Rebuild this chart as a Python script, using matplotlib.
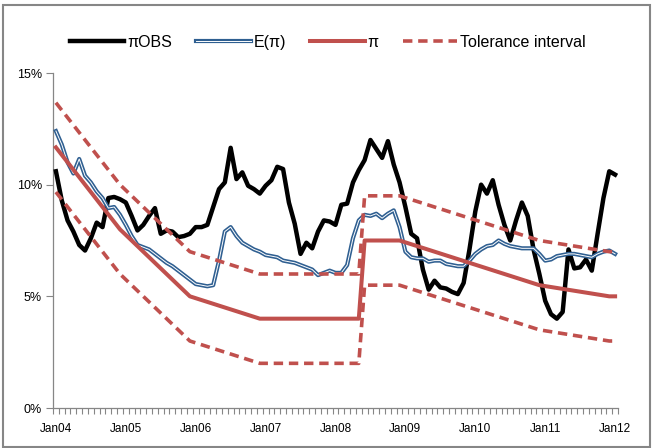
import matplotlib
matplotlib.use("Agg")
import matplotlib.pyplot as plt
from matplotlib.lines import Line2D
from matplotlib.patches import Rectangle
from matplotlib.ticker import FuncFormatter, FixedLocator

plt.rcParams['font.family'] = ['Liberation Sans', 'DejaVu Sans']

# monthly observations, Jan04 .. Jan12 (97 months), in %
pi_obs = [10.6, 9.3, 8.4, 7.9, 7.3, 7.05, 7.6, 8.3, 8.1, 9.4, 9.45, 9.35,
          9.2, 8.6, 7.95, 8.2, 8.6, 8.95, 7.8, 7.95, 7.9, 7.65, 7.7, 7.8,
          8.1, 8.1, 8.2, 9.0, 9.8, 10.1, 11.65, 10.25, 10.55, 9.95, 9.8, 9.6,
          9.95, 10.2, 10.8, 10.7, 9.2, 8.25, 6.9, 7.4, 7.15, 7.9, 8.4, 8.35,
          8.2, 9.1, 9.15, 10.1, 10.65, 11.1, 12.0, 11.6, 11.2, 11.95, 10.9, 10.1,
          9.0, 7.8, 7.6, 6.2, 5.3, 5.7, 5.4, 5.35, 5.2, 5.1, 5.6, 7.1,
          8.8, 10.0, 9.6, 10.2, 9.1, 8.2, 7.5, 8.4, 9.2, 8.6, 7.1, 6.0,
          4.8, 4.2, 4.0, 4.3, 7.1, 6.25, 6.3, 6.65, 6.15, 7.8, 9.4, 10.6,
          10.45]

pi_exp = [12.4, 11.8, 11.0, 10.5, 11.15, 10.4, 10.1, 9.7, 9.4, 8.95, 9.0, 8.65,
          8.2, 7.7, 7.3, 7.2, 7.1, 6.9, 6.7, 6.5, 6.35, 6.15, 5.95, 5.75,
          5.55, 5.5, 5.45, 5.5, 6.6, 7.9, 8.1, 7.7, 7.4, 7.25, 7.1, 7.0,
          6.85, 6.8, 6.75, 6.6, 6.55, 6.5, 6.4, 6.3, 6.2, 5.95, 6.05, 6.15,
          6.05, 6.05, 6.4, 7.6, 8.4, 8.65, 8.6, 8.7, 8.5, 8.7, 8.85, 8.1,
          7.0, 6.75, 6.7, 6.7, 6.55, 6.6, 6.6, 6.45, 6.4, 6.35, 6.35, 6.6,
          6.9, 7.1, 7.25, 7.3, 7.5, 7.35, 7.25, 7.2, 7.15, 7.15, 7.15, 6.9,
          6.6, 6.65, 6.8, 6.85, 6.9, 6.9, 6.85, 6.8, 6.75, 6.9, 7.0, 7.05,
          6.9]

# inflation target and tolerance band at the months where the path changes
target_month = [0, 11, 23, 35, 52, 53, 59, 71, 83, 95, 96]
target = [11.67, 8.0, 5.0, 4.0, 4.0, 7.5, 7.5, 6.5, 5.5, 5.0, 5.0]
band_upper = [13.67, 10.0, 7.0, 6.0, 6.0, 9.5, 9.5, 8.5, 7.5, 7.0, 7.0]
band_lower = [9.67, 6.0, 3.0, 2.0, 2.0, 5.5, 5.5, 4.5, 3.5, 3.0, 3.0]

tick_labels = ['Jan04', 'Jan05', 'Jan06', 'Jan07', 'Jan08',
               'Jan09', 'Jan10', 'Jan11', 'Jan12']

red = '#C0504D'
blue = '#2F5F91'
axis_grey = '#868686'

fig = plt.figure(figsize=(6.56, 4.48), dpi=100)
ax = fig.add_axes([53 / 656, 40 / 448, 565 / 656, 335 / 448])

months = list(range(len(pi_obs)))
ax.plot(months, pi_obs, color='black', lw=3.2, zorder=3)
ax.plot(months, pi_exp, color=blue, lw=3.0, zorder=4)
ax.plot(months, pi_exp, color='white', lw=0.7, zorder=4.1)
ax.plot(target_month, target, color=red, lw=2.9, zorder=5)
for band in (band_upper, band_lower):
    ax.plot(target_month, band, color=red, lw=2.6, dashes=(2.6, 1.6),
            dash_capstyle='butt', zorder=6)

ax.set_xlim(-0.5, len(pi_obs) - 0.5)
ax.set_ylim(0, 15)
ax.set_yticks([0, 5, 10, 15])
ax.yaxis.set_major_formatter(FuncFormatter(lambda v, p: '%d%%' % v))
ax.set_xticks(range(0, len(pi_obs), 12))
ax.set_xticklabels(tick_labels)
ax.xaxis.set_minor_locator(FixedLocator([m - 0.5 for m in range(len(pi_obs) + 1)]))
ax.tick_params(axis='x', which='major', length=0, pad=11, labelsize=8.5)
ax.tick_params(axis='x', which='minor', length=4, color=axis_grey, width=0.8)
ax.tick_params(axis='y', length=5, color=axis_grey, width=0.8, labelsize=9, pad=3)

for side in ('top', 'right'):
    ax.spines[side].set_visible(False)
for side in ('left', 'bottom'):
    ax.spines[side].set_color(axis_grey)
    ax.spines[side].set_linewidth(0.9)

handles = [
    Line2D([], [], color='black', lw=3.2),
    (Line2D([], [], color=blue, lw=3.0), Line2D([], [], color='white', lw=0.7)),
    Line2D([], [], color=red, lw=2.9),
    Line2D([], [], color=red, lw=2.6, dashes=(2.6, 1.6), dash_capstyle='butt'),
]
fig.legend(handles, ['\u03c0OBS', 'E(\u03c0)', '\u03c0', 'Tolerance interval'],
           loc='center', bbox_to_anchor=(0.5, 0.906), ncol=4, frameon=False,
           fontsize=11.5, handlelength=3.4, handletextpad=0.2, columnspacing=1.5)

fig.patches.append(Rectangle((3 / 656, 1 / 448), 647 / 656, 442 / 448,
                             transform=fig.transFigure, fill=False,
                             edgecolor=axis_grey, lw=1.5))

fig.savefig('out.png', dpi=100)
